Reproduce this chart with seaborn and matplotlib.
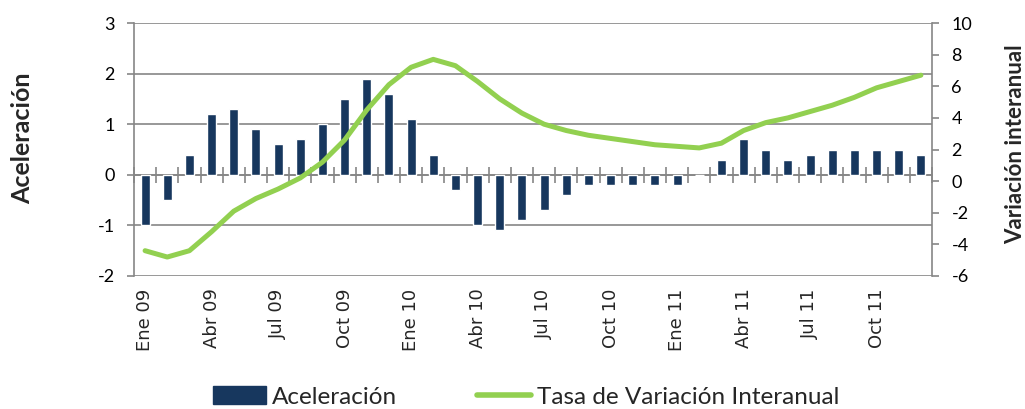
import numpy as np
import pandas as pd
import matplotlib
matplotlib.use("Agg")
import matplotlib.pyplot as plt
from matplotlib.patches import Patch
from matplotlib.lines import Line2D
import seaborn as sns

# ---- data ----
months = ["Ene 09", "Feb 09", "Mar 09", "Abr 09", "May 09", "Jun 09",
          "Jul 09", "Ago 09", "Sep 09", "Oct 09", "Nov 09", "Dic 09",
          "Ene 10", "Feb 10", "Mar 10", "Abr 10", "May 10", "Jun 10",
          "Jul 10", "Ago 10", "Sep 10", "Oct 10", "Nov 10", "Dic 10",
          "Ene 11", "Feb 11", "Mar 11", "Abr 11", "May 11", "Jun 11",
          "Jul 11", "Ago 11", "Sep 11", "Oct 11", "Nov 11", "Dic 11"]
aceleracion = [-1.0, -0.5, 0.4, 1.2, 1.3, 0.9, 0.6, 0.7, 1.0, 1.5, 1.9, 1.6,
               1.1, 0.4, -0.3, -1.0, -1.1, -0.9, -0.7, -0.4, -0.2, -0.2, -0.2, -0.2,
               -0.2, 0.0, 0.3, 0.7, 0.5, 0.3, 0.4, 0.5, 0.5, 0.5, 0.5, 0.4]
tasa = [-4.4, -4.8, -4.4, -3.2, -1.9, -1.1, -0.5, 0.2, 1.2, 2.6, 4.5, 6.1,
        7.2, 7.7, 7.3, 6.3, 5.2, 4.3, 3.6, 3.2, 2.9, 2.7, 2.5, 2.3,
        2.2, 2.1, 2.4, 3.2, 3.7, 4.0, 4.4, 4.8, 5.3, 5.9, 6.3, 6.7]
shown_labels = ["Ene 09", "Abr 09", "Jul 09", "Oct 09", "Ene 10", "Abr 10",
                "Jul 10", "Oct 10", "Ene 11", "Abr 11", "Jul 11", "Oct 11"]
left_ticks = [-2, -1, 0, 1, 2, 3]
right_ticks = [-6, -4, -2, 0, 2, 4, 6, 8, 10]

BAR = "#17375E"
LINE = "#92D050"
GRID = "#868686"

sns.set_style("white")
plt.rcParams["font.family"] = ["Lato", "DejaVu Sans"]
plt.rcParams["axes.unicode_minus"] = False

df = pd.DataFrame({"mes": months, "acel": aceleracion, "tasa": tasa,
                   "pos": np.arange(len(months))})

fig = plt.figure(figsize=(10.25, 4.09), dpi=100)
ax = fig.add_axes([134 / 1025, 1 - 276 / 409, (932 - 134) / 1025, (276 - 23) / 409])

sns.barplot(data=df, x="mes", y="acel", color=BAR, width=0.4, ax=ax,
            saturation=1, order=months)
ax.set_xlim(-0.5, len(months) - 0.5)
ax.set_ylim(-2, 3)
ax.set_yticks(left_ticks)
ax.set_axisbelow(True)
ax.grid(axis="y", color=GRID, linewidth=1.2)
ax.grid(axis="x", visible=False)
for s in ["top", "bottom", "right"]:
    ax.spines[s].set_visible(False)
ax.spines["left"].set_color(GRID)
ax.spines["left"].set_linewidth(1.2)
ax.tick_params(axis="y", which="both", left=True, length=5, width=1.2,
               color=GRID, pad=9, labelsize=13, labelcolor="black")

# x labels
ax.set_xticks([months.index(m) for m in shown_labels])
ax.set_xticklabels(shown_labels, rotation=90, fontsize=13,
                   family="DejaVu Sans", va="top", ha="center")
ax.tick_params(axis="x", length=0, pad=9)
ax.set_xlabel("")

# category axis at zero with boundary tick marks
sec = ax.secondary_xaxis(2 / 5)
sec.set_xticks(np.arange(len(months) + 1) - 0.5)
sec.tick_params(axis="x", direction="inout", length=11, width=1.2,
                color=GRID, labelbottom=False)
sec.spines["bottom"].set_color(GRID)
sec.spines["bottom"].set_linewidth(1.2)
for s in ["top", "left", "right"]:
    sec.spines[s].set_visible(False)

ax.set_ylabel("Aceleración", fontsize=18, fontweight="bold")
ax.yaxis.set_label_coords(-0.14, 0.545)
ax.yaxis.label.set_va("center")

# secondary axis: line
ax2 = ax.twinx()
sns.lineplot(data=df, x="pos", y="tasa", color=LINE, linewidth=3.6, ax=ax2)
ax2.set_xlim(-0.5, len(months) - 0.5)
ax2.set_ylim(-6, 10)
ax2.set_yticks(right_ticks)
for s in ["top", "bottom", "left"]:
    ax2.spines[s].set_visible(False)
ax2.spines["right"].set_color(GRID)
ax2.spines["right"].set_linewidth(1.2)
ax2.tick_params(axis="y", right=True, length=5, width=1.2, color=GRID,
                pad=9, labelsize=13, labelcolor="black")
ax2.set_ylabel("Variación interanual", fontsize=16, fontweight="bold")
ax2.yaxis.set_label_coords(1.105, 0.52)
ax2.yaxis.label.set_va("center")
ax2.set_xlabel("")

handles = [Patch(facecolor=BAR, edgecolor=BAR),
           Line2D([0], [0], color=LINE, linewidth=4, solid_capstyle="round")]
fig.legend(handles, ["Aceleración", "Tasa de Variación Interanual"],
           loc="center", bbox_to_anchor=(526 / 1025, 1 - 397 / 409), ncol=2,
           frameon=False, fontsize=17.5, handlelength=2.2, handleheight=0.75,
           handletextpad=0.25, columnspacing=3.3)

fig.savefig("out.png", dpi=100)
